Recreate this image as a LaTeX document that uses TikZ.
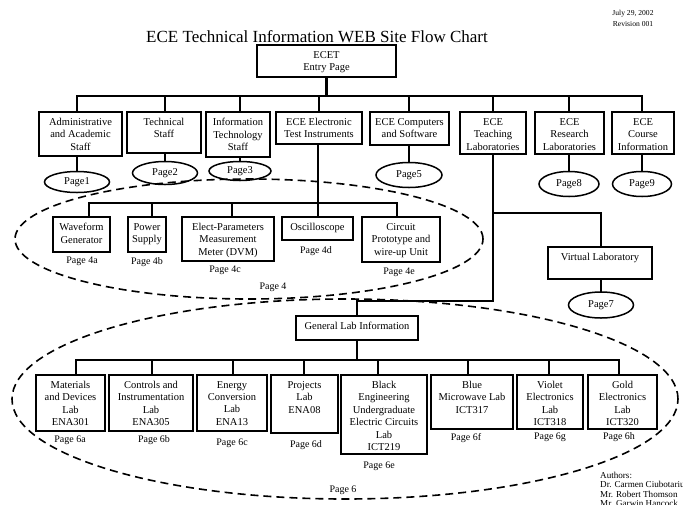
\documentclass[tikz,border=0pt]{standalone}
\usepackage{fontspec}
\setmainfont{Liberation Serif}
\usetikzlibrary{shapes.geometric,calc}
\tikzset{
  chartbox/.style={draw, line width=1.5pt, inner sep=0pt},
  boxtext/.style={align=center, inner sep=0pt, font=\fontsize{10.5}{12.4}\selectfont, anchor=north},
  link/.style={line width=2.4pt, line cap=rect},
  pageoval/.style={draw, ellipse, line width=1.5pt, inner sep=0pt, font=\fontsize{10.5}{12}\selectfont},
  pagelabel/.style={inner sep=0pt, font=\fontsize{10}{12}\selectfont},
  group/.style={draw, ellipse, line width=1.6pt, dash pattern=on 8pt off 5pt, inner sep=0pt},
  smalltext/.style={inner sep=0pt, align=left, font=\fontsize{9.1}{9.6}\selectfont},
}
% \chartnode{name}{left}{top}{right}{bottom}{text}: a framed box, text near its top
\newcommand{\chartnode}[6]{%
  \node[chartbox, minimum width={(#4)-(#2)}, minimum height={(#5)-(#3)}] (#1) at ({((#2)+(#4))/2},{((#3)+(#5))/2}) {};
  \node[boxtext] (#1t) at ([yshift=-6.8pt]#1.north) {#6};}
\begin{document}
\begin{tikzpicture}[x=1pt, y=-1pt]
\useasboundingbox (0,0) rectangle (683,504);
\clip (0,0) rectangle (683,504);

% header
\node[inner sep=0pt, font=\fontsize{17}{20}\selectfont] (title) at (317,37) {ECE Technical Information WEB Site Flow Chart};
\node[inner sep=0pt, align=center, font=\fontsize{7.6}{10.5}\selectfont] (date) at (633,18.5) {July 29, 2002\\Revision 001};

% dashed groupings
\node[group, minimum width=468, minimum height=120] (grp4) at (249,239) {};
\node[group, minimum width=666, minimum height=200] (grp6) at (345,399) {};

% entry page
\chartnode{ecet}{257}{45}{396}{77}{ECET\\Entry Page}

% first level
\chartnode{adm}{39}{112}{122}{156}{Administrative\\and Academic\\Staff}
\chartnode{tec}{127}{112}{201}{153}{Technical\\Staff}
\chartnode{its}{206}{112}{270}{157}{Information\\Technology\\Staff}
\chartnode{ete}{276}{112}{362}{144}{ECE Electronic\\Test Instruments}
\chartnode{ecs}{370}{112}{449}{145}{ECE Computers\\and Software}
\chartnode{tch}{460}{112}{526}{154}{ECE\\Teaching\\Laboratories}
\chartnode{res}{535}{112}{604}{154}{ECE\\Research\\Laboratories}
\chartnode{crs}{612}{112}{674}{154}{ECE\\Course\\Information}

% page ovals
\node[pageoval, minimum width=65, minimum height=21] (p1) at (77,182) {Page1};
\node[pageoval, minimum width=65, minimum height=23] (p2) at (165,173) {Page2};
\node[pageoval, minimum width=62, minimum height=19] (p3) at (240,171) {Page3};
\node[pageoval, minimum width=66, minimum height=25] (p5) at (409,175) {Page5};
\node[pageoval, minimum width=60, minimum height=25] (p8) at (569,184) {Page8};
\node[pageoval, minimum width=59, minimum height=25] (p9) at (642,184) {Page9};

% top bus
\coordinate (bus1) at (0,96);
\draw[link] (ecet.south) -- (ecet.south |- bus1);
\draw[link] (p1.north |- bus1) -- (p9.north |- bus1);
\foreach \n/\p in {adm/p1,tec/p2,its/p3,ecs/p5,res/p8,crs/p9}{
  \draw[link] (\p.north |- bus1) -- (\p.north |- \n.north);
  \draw[link] (\p.north |- \n.south) -- (\p.north);
}
\foreach \n in {ete,tch}
  \draw[link] (\n.north |- bus1) -- (\n.north);

% test instruments
\chartnode{wav}{53}{217}{110}{252}{Waveform\\Generator}
\chartnode{pwr}{128}{217}{166}{252}{Power\\Supply}
\chartnode{elp}{182}{217}{274}{261}{Elect-Parameters\\Measurement\\Meter (DVM)}
\chartnode{osc}{282}{217}{353}{240}{Oscilloscope}
\chartnode{cir}{362}{217}{440}{262}{Circuit\\Prototype and\\wire-up Unit}

\coordinate (b4a) at (89,203);
\coordinate (b4b) at (152,203);
\coordinate (b4c) at (232,203);
\coordinate (b4d) at (318,203);
\coordinate (b4e) at (397,203);
\draw[link] (b4a) -- (b4e);
\draw[link] (b4d |- ete.south) -- (b4d);
\draw[link] (b4a) -- (b4a |- wav.north);
\draw[link] (b4b) -- (b4b |- pwr.north);
\draw[link] (b4c) -- (b4c |- elp.north);
\draw[link] (b4d) -- (b4d |- osc.north);
\draw[link] (b4e) -- (b4e |- cir.north);

\node[pagelabel] (l4a) at (82,261) {Page 4a};
\node[pagelabel] (l4b) at (147,262) {Page 4b};
\node[pagelabel] (l4c) at (225,270) {Page 4c};
\node[pagelabel] (l4d) at (316,251) {Page 4d};
\node[pagelabel] (l4e) at (399,272) {Page 4e};
\node[pagelabel] (l4) at (273,287) {Page 4};

% teaching laboratories
\chartnode{vl}{548}{247}{652}{279}{Virtual Laboratory}
\node[pageoval, minimum width=65, minimum height=26] (p7) at (601,305) {Page7};
\chartnode{gli}{296}{316}{418}{340}{General Lab Information}

\coordinate (vjoin) at (493,213);
\coordinate (gturn) at (493,301);
\draw[link] (tch.south) -- (gturn) -| (gli.north);
\draw[link] (vjoin) -| (p7.north |- vl.north);
\draw[link] (p7.north |- vl.south) -- (p7.north);

% laboratories
\chartnode{mat}{36}{375}{105}{431}{Materials\\and Devices\\Lab\\ENA301}
\chartnode{ctl}{109}{375}{193}{431}{Controls and\\Instrumentation\\Lab\\ENA305}
\chartnode{ene}{197}{375}{267}{431}{Energy\\Conversion\\Lab\\ENA13}
\chartnode{prj}{271}{375}{338}{433}{Projects\\Lab\\ENA08}
\chartnode{blk}{341}{375}{427}{454}{Black\\Engineering\\Undergraduate\\Electric Circuits\\Lab\\ICT219}
\chartnode{blu}{431}{375}{513}{429}{Blue\\Microwave Lab\\ICT317}
\chartnode{vio}{517}{375}{583}{429}{Violet\\Electronics\\Lab\\ICT318}
\chartnode{gld}{588}{375}{657}{429}{Gold\\Electronics\\Lab\\ICT320}

\coordinate (b6a) at (76,360);
\coordinate (b6b) at (152,360);
\coordinate (b6c) at (233,360);
\coordinate (b6d) at (304,360);
\coordinate (b6e) at (378,360);
\coordinate (b6f) at (468,360);
\coordinate (b6g) at (549,360);
\coordinate (b6h) at (619,360);
\draw[link] (b6a) -- (b6h);
\draw[link] (gli.south) -- (gli.south |- b6a);
\draw[link] (b6a) -- (b6a |- mat.north);
\draw[link] (b6b) -- (b6b |- ctl.north);
\draw[link] (b6c) -- (b6c |- ene.north);
\draw[link] (b6d) -- (b6d |- prj.north);
\draw[link] (b6e) -- (b6e |- blk.north);
\draw[link] (b6f) -- (b6f |- blu.north);
\draw[link] (b6g) -- (b6g |- vio.north);
\draw[link] (b6h) -- (b6h |- gld.north);

\node[pagelabel] (l6a) at (70,440) {Page 6a};
\node[pagelabel] (l6b) at (154,440) {Page 6b};
\node[pagelabel] (l6c) at (232,443) {Page 6c};
\node[pagelabel] (l6d) at (306,445) {Page 6d};
\node[pagelabel] (l6e) at (379,466) {Page 6e};
\node[pagelabel] (l6f) at (466,438) {Page 6f};
\node[pagelabel] (l6g) at (550,437) {Page 6g};
\node[pagelabel] (l6h) at (619,437) {Page 6h};
\node[pagelabel] (l6) at (343,490) {Page 6};

% authors
\node[smalltext, anchor=north west] (auth) at (600,471.5) {Authors:\\Dr. Carmen Ciubotariu\\Mr. Robert Thomson\\Mr. Garwin Hancock};
\end{tikzpicture}
\end{document}
